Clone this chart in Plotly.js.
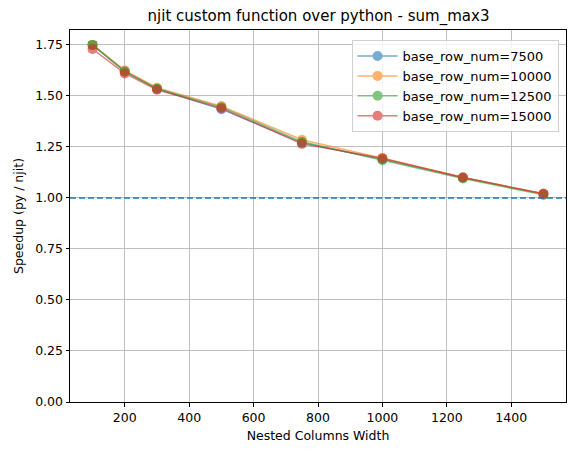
<!DOCTYPE html>
<html><head><meta charset="utf-8">
<script src="https://cdn.plot.ly/plotly-3.0.1.min.js"></script>
<style>html,body{margin:0;padding:0;background:#fff}#chart{width:576px;height:455px}</style>
</head><body><div id="chart"></div>
<script>
const widths = [100, 200, 300, 500, 750, 1000, 1250, 1500];
const seriesNames = ["base_row_num=7500", "base_row_num=10000", "base_row_num=12500", "base_row_num=15000"];
const speed7500  = [1.750, 1.620, 1.535, 1.435, 1.270, 1.190, 1.100, 1.020];
const speed10000 = [1.750, 1.625, 1.540, 1.450, 1.285, 1.195, 1.100, 1.020];
const speed12500 = [1.750, 1.620, 1.535, 1.445, 1.275, 1.185, 1.095, 1.015];
const speed15000 = [1.730, 1.610, 1.530, 1.440, 1.265, 1.195, 1.100, 1.020];
const err7500  = [0.015, 0.010, 0.010, 0.010, 0.008, 0.008, 0.008, 0.008];
const err10000 = [0.015, 0.010, 0.010, 0.010, 0.008, 0.008, 0.008, 0.008];
const err12500 = [0.015, 0.010, 0.010, 0.010, 0.008, 0.008, 0.008, 0.008];
const err15000 = [0.015, 0.010, 0.012, 0.010, 0.008, 0.008, 0.008, 0.008];
const colors = ["#1f77b4", "#ff7f0e", "#2ca02c", "#d62728"];
const allSpeeds = [speed7500, speed10000, speed12500, speed15000];
const allErrs = [err7500, err10000, err12500, err15000];

const traces = allSpeeds.map((ys, i) => ({
  x: widths, y: ys, name: seriesNames[i], type: 'scatter', mode: 'lines+markers',
  opacity: 0.6,
  line: {color: colors[i], width: 1.5},
  marker: {color: colors[i], size: 10},
  error_y: {type: 'data', array: allErrs[i], visible: true, color: colors[i], thickness: 1, width: 4}
}));
traces.push({
  x: [30, 1570], y: [1, 1], mode: 'lines', showlegend: false, hoverinfo: 'skip',
  line: {color: '#1f77b4', width: 1.5, dash: '6px,3px'}
});

const fam = 'DejaVu Sans, sans-serif';
Plotly.newPlot('chart', traces, {
  width: 576, height: 455,
  margin: {l: 70, r: 10, t: 30, b: 53},
  paper_bgcolor: '#fff', plot_bgcolor: '#fff',
  font: {family: fam, size: 12.5, color: '#000'},
  title: {text: 'njit custom function over python - sum_max3', font: {family: fam, size: 15, color: '#000'}, x: 0.553, xanchor: 'center', y: 0.965, yanchor: 'middle'},
  xaxis: {
    range: [30, 1570], tickvals: [200, 400, 600, 800, 1000, 1200, 1400],
    showgrid: true, gridcolor: '#b0b0b0', gridwidth: 0.8, zeroline: false,
    showline: true, mirror: true, linecolor: '#000', linewidth: 1,
    ticks: 'outside', ticklen: 3.5, tickcolor: '#000',
    tickfont: {family: fam, size: 12.5, color: '#000'},
    title: {text: 'Nested Columns Width', font: {family: fam, size: 12.5}, standoff: 7}
  },
  yaxis: {
    range: [0, 1.823], tickvals: [0, 0.25, 0.5, 0.75, 1.0, 1.25, 1.5, 1.75],
    ticktext: ['0.00', '0.25', '0.50', '0.75', '1.00', '1.25', '1.50', '1.75'],
    showgrid: true, gridcolor: '#b0b0b0', gridwidth: 0.8, zeroline: false,
    showline: true, mirror: true, linecolor: '#000', linewidth: 1,
    ticks: 'outside', ticklen: 3.5, tickcolor: '#000',
    tickfont: {family: fam, size: 12.5, color: '#000'},
    title: {text: 'Speedup (py / njit)', font: {family: fam, size: 12.5}, standoff: 8}
  },
  legend: {
    x: 0.985, xanchor: 'right', y: 0.973, yanchor: 'top',
    bgcolor: 'rgba(255,255,255,0.8)', bordercolor: '#d0d0d0', borderwidth: 1,
    font: {family: fam, size: 13, color: '#000'}, tracegroupgap: 0, itemwidth: 40
  },
  showlegend: true
}, {displayModeBar: false, staticPlot: true});
</script></body></html>
